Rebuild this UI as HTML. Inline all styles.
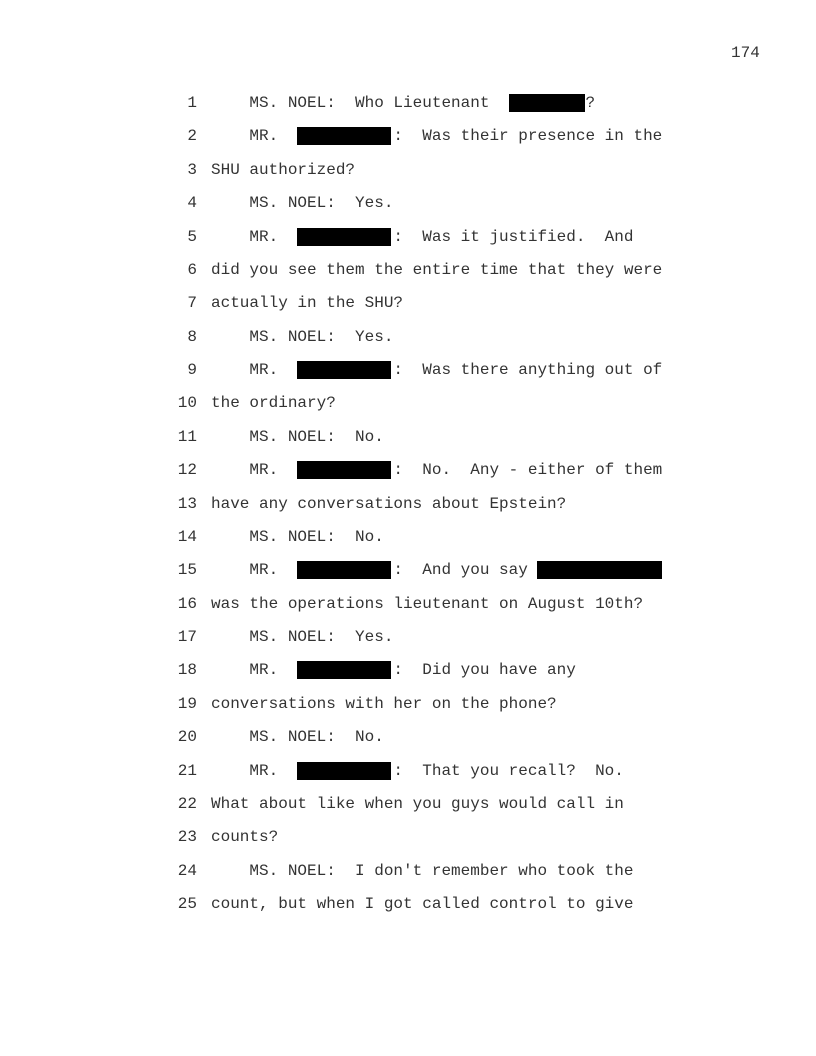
<!DOCTYPE html>
<html><head><meta charset="utf-8"><style>
body{margin:0;background:#fff;width:816px;height:1056px;position:relative;overflow:hidden;font-family:"Liberation Mono",monospace;font-size:16px;color:#333}
.l{position:absolute;left:0;height:18px;line-height:18px;white-space:pre}
.n{position:absolute;width:197px;text-align:right;left:0}
.t{position:absolute;left:211px}
.r{position:absolute;background:#000;height:18px}
</style></head><body>
<div class="l" style="top:44px;left:731px">174</div>
<div id="c"></div>
<script>
var M="    MR.            :  ";
var L=[
"    MS. NOEL:  Who Lieutenant          ?",
M+"Was their presence in the",
"SHU authorized?",
"    MS. NOEL:  Yes.",
M+"Was it justified.  And",
"did you see them the entire time that they were",
"actually in the SHU?",
"    MS. NOEL:  Yes.",
M+"Was there anything out of",
"the ordinary?",
"    MS. NOEL:  No.",
M+"No.  Any - either of them",
"have any conversations about Epstein?",
"    MS. NOEL:  No.",
M+"And you say",
"was the operations lieutenant on August 10th?",
"    MS. NOEL:  Yes.",
M+"Did you have any",
"conversations with her on the phone?",
"    MS. NOEL:  No.",
M+"That you recall?  No.",
"What about like when you guys would call in",
"counts?",
"    MS. NOEL:  I don't remember who took the",
"count, but when I got called control to give"];
var h="";
for(var i=0;i<25;i++){var y=Math.round(103+i*33.375-9);
h+='<div class="l" style="top:'+y+'px;width:816px"><span class="n">'+(i+1)+'</span><span class="t">'+L[i].replace(/&/g,"&amp;").replace(/</g,"&lt;")+'</span></div>';
if(L[i].indexOf("    MR.")==0)h+='<div class="r" style="top:'+y+'px;left:297px;width:94px"></div>';
}
var y1=Math.round(103-9);h+='<div class="r" style="top:'+y1+'px;left:509px;width:76px"></div>';
var y15=Math.round(103+14*33.375-9);h+='<div class="r" style="top:'+y15+'px;left:537px;width:125px"></div>';
document.getElementById("c").innerHTML=h;
</script>
</body></html>
